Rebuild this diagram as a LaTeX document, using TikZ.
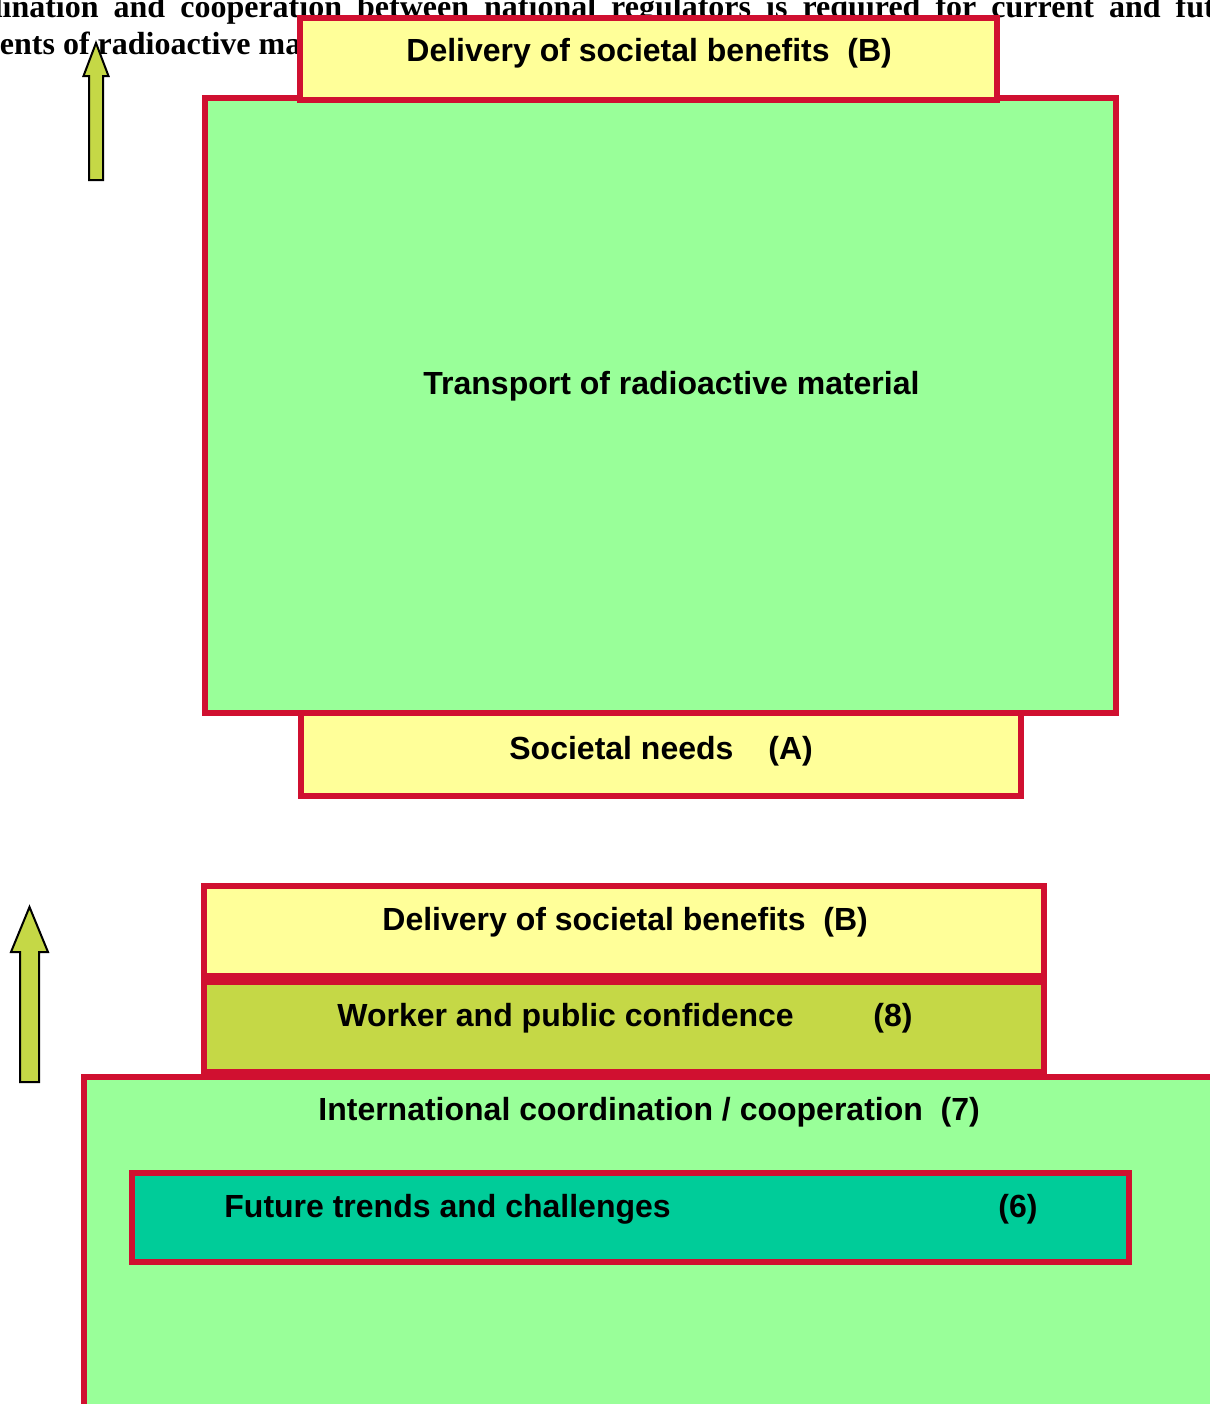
\documentclass[tikz,border=0pt]{standalone}
\usepackage{fontspec}
\setmainfont{Liberation Serif}
\setsansfont{Liberation Sans}
\usetikzlibrary{positioning}
\definecolor{boxred}{RGB}{208,16,48}
\definecolor{paleyellow}{RGB}{255,255,153}
\definecolor{palegreen}{RGB}{153,255,153}
\definecolor{confolive}{RGB}{197,216,70}
\definecolor{trendteal}{RGB}{0,204,153}
\tikzset{panel/.style={rectangle, draw=boxred, line width=3pt, inner sep=0pt},
         lbl/.style={anchor=base west, inner sep=0pt, font=\sffamily\bfseries\fontsize{16}{19}\selectfont},
         bodytext/.style={anchor=base west, inner sep=0pt, font=\bfseries\fontsize{16}{19}\selectfont},
         uparrow/.style={draw=black, line width=1pt, fill=confolive}}

\begin{document}
\begin{tikzpicture}[x=0.5pt, y=-0.5pt]
    \path[use as bounding box] (0,0) rectangle (1210,1404);
    \clip (0,0) rectangle (1210,1404);
    % page text behind the figure
    \node[bodytext](line1) at (-76,17) {\hbox to 668pt{coordination\hfil and\hfil cooperation\hfil between\hfil national\hfil regulators\hfil is\hfil required\hfil for\hfil current\hfil and\hfil future}};
    \node[bodytext](line2) at (-84,54) {shipments of radioactive material.};
    % upper figure
    \draw[uparrow] (96,43) -- (108.5,76) -- (103,76) -- (103,180) -- (89,180) -- (89,76) -- (83.5,76) -- cycle;
    \node[panel, fill=palegreen, minimum width=455.5pt, minimum height=307.5pt, anchor=north west](transport) at (202,95) {};
    \node[panel, fill=paleyellow, minimum width=348.5pt, minimum height=41pt, above=-4pt of transport, xshift=-6pt](benefitsA) {};
    \node[panel, fill=paleyellow, minimum width=360pt, minimum height=41.5pt, below=-3pt of transport](needs) {};
    \node[lbl] at (406,61) {Delivery of societal benefits~~(B)};
    \node[lbl] at (423,394) {Transport of radioactive material};
    \node[lbl] at (509,759) {Societal needs};
    \node[lbl] at (768,759) {(A)};
    % lower figure
    \draw[uparrow] (29.5,907) -- (48,952) -- (39,952) -- (39,1082) -- (20,1082) -- (20,952) -- (11,952) -- cycle;
    \node[panel, fill=palegreen, minimum width=578pt, minimum height=181.5pt, anchor=north west](coop) at (81,1074) {};
    \node[panel, fill=trendteal, minimum width=498.5pt, minimum height=44.5pt, anchor=north west](trends) at (129,1170) {};
    \node[panel, fill=paleyellow, minimum width=420pt, minimum height=45pt, anchor=north west](benefitsB) at (201,883) {};
    \node[panel, fill=confolive, minimum width=420pt, minimum height=45pt, below=0pt of benefitsB](confidence) {};
    \node[lbl] at (382,930) {Delivery of societal benefits~~(B)};
    \node[lbl] at (337,1026) {Worker and public confidence};
    \node[lbl] at (873,1026) {(8)};
    \node[lbl] at (318,1120) {International coordination / cooperation~~(7)};
    \node[lbl] at (224,1217) {Future trends and challenges};
    \node[lbl] at (998,1217) {(6)};
\end{tikzpicture}
\end{document}
